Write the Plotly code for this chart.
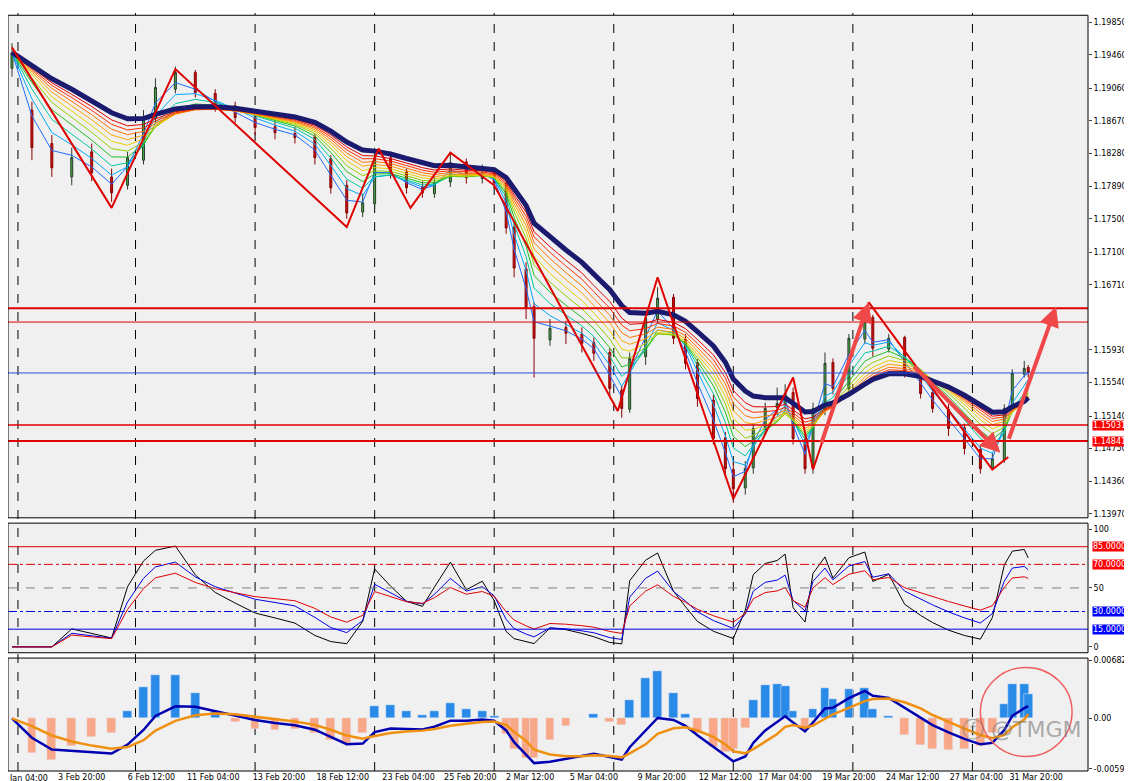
import plotly.graph_objects as go
import numpy as np

# ---- data ----
bar_idx = [0,5,10,15,20,25,29,33,36,41,46,51,56,61,66,71,76,80,84,88,91,95,99,103,106,110,114,118,121,124,126,129,131,135,139,143,146,150,153,155,159,162,166,169,172,176,179,181,184,186,189,192,194,196,199,201,204,206,210,214,216,220,224,228,231,235,239,243,246,249,251,254,255]
close = [1.1949,1.1835,1.1811,1.1823,1.1805,1.1781,1.1823,1.1871,1.1907,1.1925,1.1901,1.1883,1.1871,1.1859,1.1853,1.1847,1.1823,1.1787,1.1757,1.1769,1.1823,1.1805,1.1787,1.1781,1.1793,1.1817,1.1799,1.1805,1.1793,1.1739,1.1691,1.1643,1.1607,1.1619,1.1613,1.1601,1.1589,1.1547,1.1523,1.1583,1.1631,1.1655,1.1607,1.1577,1.1535,1.1487,1.1451,1.1427,1.1451,1.1499,1.1523,1.1529,1.1541,1.1487,1.1451,1.1523,1.1577,1.1547,1.1607,1.1631,1.1595,1.1607,1.1565,1.1541,1.1523,1.1499,1.1475,1.1451,1.1463,1.1523,1.1565,1.1571,1.1566]
open_ = [1.1930,1.1880,1.1840,1.1800,1.1830,1.1800,1.1790,1.1820,1.1870,1.1905,1.1925,1.1900,1.1885,1.1872,1.1860,1.1852,1.1848,1.1822,1.1790,1.1758,1.1768,1.1823,1.1806,1.1788,1.1780,1.1794,1.1818,1.1798,1.1806,1.1792,1.1740,1.1690,1.1645,1.1605,1.1620,1.1612,1.1602,1.1590,1.1545,1.1522,1.1585,1.1630,1.1656,1.1606,1.1578,1.1533,1.1488,1.1450,1.1428,1.1452,1.1498,1.1524,1.1528,1.1542,1.1486,1.1452,1.1522,1.1578,1.1546,1.1606,1.1632,1.1594,1.1608,1.1564,1.1542,1.1522,1.1500,1.1474,1.1452,1.1462,1.1524,1.1564,1.1572]
high = [1.1960,1.1890,1.1850,1.1835,1.1840,1.1810,1.1830,1.1880,1.1918,1.1932,1.1928,1.1905,1.1890,1.1878,1.1868,1.1860,1.1852,1.1826,1.1796,1.1780,1.1835,1.1828,1.1810,1.1795,1.1800,1.1830,1.1822,1.1815,1.1810,1.1795,1.1745,1.1698,1.1650,1.1630,1.1628,1.1620,1.1608,1.1595,1.1550,1.1590,1.1640,1.1668,1.1660,1.1612,1.1582,1.1540,1.1495,1.1458,1.1460,1.1505,1.1530,1.1548,1.1552,1.1548,1.1492,1.1530,1.1590,1.1583,1.1612,1.1640,1.1635,1.1612,1.1610,1.1570,1.1548,1.1528,1.1505,1.1480,1.1470,1.1528,1.1570,1.1580,1.1575]
low = [1.1920,1.1820,1.1800,1.1790,1.1795,1.1770,1.1785,1.1815,1.1865,1.1900,1.1895,1.1878,1.1865,1.1850,1.1845,1.1840,1.1815,1.1780,1.1750,1.1752,1.1762,1.1798,1.1780,1.1775,1.1775,1.1788,1.1792,1.1792,1.1786,1.1732,1.1680,1.1630,1.1560,1.1598,1.1600,1.1590,1.1580,1.1535,1.1512,1.1518,1.1575,1.1625,1.1600,1.1570,1.1525,1.1480,1.1440,1.1410,1.1420,1.1445,1.1492,1.1515,1.1520,1.1480,1.1445,1.1445,1.1515,1.1540,1.1540,1.1600,1.1585,1.1590,1.1560,1.1535,1.1518,1.1490,1.1468,1.1445,1.1450,1.1458,1.1518,1.1560,1.1560]

first_tick_text = "Jan 04:00"
tick_idx = [17.5,35,50.5,67,83,99.5,115,130,146,163,179,194,210,226,242,257]
tick_text = ["3 Feb 20:00","6 Feb 12:00","11 Feb 04:00","13 Feb 20:00","18 Feb 12:00","23 Feb 04:00",
             "25 Feb 20:00","2 Mar 12:00","5 Mar 04:00","9 Mar 20:00","12 Mar 12:00","17 Mar 04:00","19 Mar 20:00",
             "24 Mar 12:00","27 Mar 04:00","31 Mar 20:00"]
grid_idx = [1.5,31,61,91,121,151,181,211,241]

price_ticks = [1.19850,1.19460,1.19060,1.18670,1.18280,1.17890,1.17500,1.17100,1.16710,1.15930,1.15540,1.15140,1.14750,1.14360,1.13970]
levels = [1.16430,1.16264,1.15655,1.15031,1.14841]
level_colors = ["#e00000","#e00000","#3050e0","#e00000","#e00000"]
level_widths = [2,1,1,1.5,2]
level_label_bg = ["#ff0000","#ff0000","#000000","#ff0000","#ff0000"]

zig_idx = [0,25,41,84,92,100,110,121,152,162,181,196,201,215,246,250]
zig_price = [1.1955,1.1763,1.1929,1.1740,1.1834,1.1763,1.1829,1.1790,1.1520,1.1680,1.1415,1.1560,1.1450,1.1650,1.1450,1.1465]
arrows = [((203,1.1480),(215,1.1650)),((226,1.1575),(248,1.1470)),((250,1.1485),(262,1.1645))]

rsi_levels = [85,70,50,30,15]

# ---- derived indicators ----
c = np.array(close)
def ema(x, n):
    a = 2/(n+1); out = np.empty_like(x); out[0] = x[0]
    for i in range(1, len(x)): out[i] = a*x[i] + (1-a)*out[i-1]
    return out
def rsi(x, n):
    d = np.diff(x, prepend=x[0]); up = np.clip(d,0,None); dn = np.clip(-d,0,None)
    au, ad = ema(up, 2*n-1), ema(dn, 2*n-1)
    return 100 - 100/(1 + au/np.maximum(ad,1e-9))

fig = go.Figure()
rainbow = ["#1e6cff","#00a8ff","#00c8a0","#20c020","#90d000","#e8d000","#ffa000","#ff7000","#ff3000","#e00000"]
for k, col in enumerate(rainbow):
    fig.add_trace(go.Scatter(x=bar_idx, y=ema(c, 2+k*1.1), mode="lines", line=dict(color=col, width=1), yaxis="y", hoverinfo="skip"))
fig.add_trace(go.Scatter(x=bar_idx, y=ema(c, 14), mode="lines", line=dict(color="#1a1a6e", width=5), yaxis="y"))
fig.add_trace(go.Candlestick(x=bar_idx, open=open_, high=high, low=low, close=close,
    increasing=dict(line=dict(color="#2a3a2a", width=1), fillcolor="#40b040"),
    decreasing=dict(line=dict(color="#8a0000", width=1), fillcolor="#d01010"), whiskerwidth=0, yaxis="y"))
fig.add_trace(go.Scatter(x=zig_idx, y=zig_price, mode="lines", line=dict(color="#e00000", width=2), yaxis="y"))
for (x0,y0),(x1,y1) in arrows:
    fig.add_annotation(x=x1, y=y1, ax=x0, ay=y0, xref="x", yref="y", axref="x", ayref="y",
                       showarrow=True, arrowhead=2, arrowsize=1, arrowwidth=4, arrowcolor="#f04848", text="")

for n, col in [(3,"#000000"),(5,"#0000e0"),(8,"#e00000")]:
    fig.add_trace(go.Scatter(x=bar_idx, y=rsi(c, n), mode="lines", line=dict(color=col, width=1), yaxis="y2"))
macd = ema(c,4) - ema(c,9); sig = ema(macd, 4); hist = macd - sig
hist_scaled = hist*3
fig.add_trace(go.Bar(x=bar_idx, y=hist_scaled, marker_color=["#2a8ae8" if h>0 else "#f8a888" for h in hist], width=2.2, yaxis="y3"))
fig.add_trace(go.Scatter(x=bar_idx, y=macd, mode="lines", line=dict(color="#0000b0", width=2.5), yaxis="y3"))
fig.add_trace(go.Scatter(x=bar_idx, y=sig, mode="lines", line=dict(color="#f09010", width=2.5), yaxis="y3"))

shapes = []
for g in grid_idx:
    shapes.append(dict(type="line", xref="x", yref="paper", x0=g, x1=g, y0=0, y1=1, line=dict(color="black", width=1, dash="dash"), layer="below"))
for lv, col, w in zip(levels, level_colors, level_widths):
    shapes.append(dict(type="line", xref="paper", yref="y", x0=0, x1=1, y0=lv, y1=lv, line=dict(color=col, width=w)))
rsi_style = [("#e00000","solid"),("#e00000","dashdot"),("#808080","dash"),("#0000e0","dashdot"),("#0000e0","solid")]
for lv,(col,d) in zip(rsi_levels, rsi_style):
    shapes.append(dict(type="line", xref="paper", yref="y2", x0=0, x1=1, y0=lv, y1=lv, line=dict(color=col, width=1, dash=d)))
for d0,d1 in [(0.334,0.997),(0.156,0.327),(0,0.149)]:
    shapes.append(dict(type="rect", xref="paper", yref="paper", x0=0, x1=1, y0=d0, y1=d1, line=dict(color="black", width=1)))
shapes.append(dict(type="circle", xref="x", yref="y3", x0=243, x1=266, y0=-0.0045, y1=0.0060, line=dict(color="#f06060", width=1.5)))

ann = []
for lv, bg in zip(levels, level_label_bg):
    ann.append(dict(x=1.004, xref="paper", y=lv, yref="y", text=f"{lv:.5f}", showarrow=False, xanchor="left",
                    font=dict(color="white", size=8, family="DejaVu Sans"), bgcolor=bg, borderpad=0))
rsi_bg = ["#ff0000","#ff0000",None,"#0000ff","#0000ff"]
for lv, bg in zip(rsi_levels, rsi_bg):
    if bg:
        ann.append(dict(x=1.004, xref="paper", y=lv, yref="y2", text=f"{lv:.4f}", showarrow=False, xanchor="left",
                        font=dict(color="white", size=8, family="DejaVu Sans"), bgcolor=bg, borderpad=0))
ann.append(dict(x=9.5, xref="x", y=0, yref="paper", yanchor="top", yshift=-1, text=first_tick_text, showarrow=False, xanchor="right",
                font=dict(size=8)))
ann.append(dict(x=0.995, xref="paper", y=0.035, yref="paper", text="ⓕ @TMGM", showarrow=False, xanchor="right",
                font=dict(color="rgba(120,120,120,0.6)", size=22, family="DejaVu Sans")))

fig.update_layout(
    width=1132, height=781, margin=dict(l=0, r=52, t=5, b=18),
    paper_bgcolor="white", plot_bgcolor="#f0f0f0", showlegend=False, shapes=shapes, annotations=ann,
    font=dict(family="DejaVu Sans", size=8, color="black"), bargap=0,
    xaxis=dict(range=[-1, 270], tickvals=tick_idx, ticktext=tick_text, tickangle=0, showgrid=False, anchor="y3",
               rangeslider=dict(visible=False), ticks="", zeroline=False, tickfont=dict(size=8)),
    yaxis=dict(domain=[0.334,0.997], range=[1.13922,1.19934], side="right", tickvals=price_ticks, tickformat=".5f",
               showgrid=False, ticks="outside", ticklen=3, zeroline=False, anchor="x"),
    yaxis2=dict(domain=[0.156,0.327], range=[-5,105], side="right", tickvals=[0,50,100], showgrid=False,
                ticks="outside", ticklen=3, zeroline=False, anchor="x"),
    yaxis3=dict(domain=[0,0.149], range=[-0.0062,0.0071], side="right", tickvals=[0.0068298,0,-0.0059406],
                ticktext=["0.006829","0.00","-0.00594"], showgrid=False, ticks="outside", ticklen=3, zeroline=False, anchor="x"),
)
fig.write_html("out.html")
